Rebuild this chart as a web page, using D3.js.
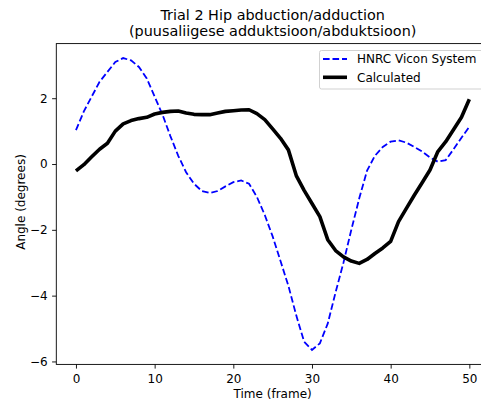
<!DOCTYPE html>
<html>
<head>
<meta charset="utf-8">
<script src="https://cdn.jsdelivr.net/npm/d3@7"></script>
<style>
  html, body { margin: 0; padding: 0; background: #fff; }
  svg { display: block; }
  text { font-family: "DejaVu Sans", sans-serif; fill: #000; }
</style>
</head>
<body>
<svg id="chart" width="481" height="405"></svg>
<script>
const frames = d3.range(0, 51);
const viconValues = [
  1.03, 1.6, 2.05, 2.5, 2.8, 3.1, 3.22, 3.15, 2.95, 2.6,
  2.05, 1.5, 0.85, 0.25, -0.25, -0.6, -0.82, -0.88, -0.82, -0.68,
  -0.55, -0.5, -0.6, -1.0, -1.55, -2.2, -2.95, -3.7, -4.6, -5.4,
  -5.65, -5.45, -4.85, -3.9, -3.0, -2.0, -1.05, -0.2, 0.25, 0.52,
  0.68, 0.72, 0.65, 0.52, 0.38, 0.2, 0.07, 0.12, 0.45, 0.8,
  1.13
];
const calculatedValues = [
  -0.21, -0.02, 0.22, 0.45, 0.63, 1.0, 1.22, 1.32, 1.38, 1.42,
  1.52, 1.57, 1.6, 1.61, 1.55, 1.51, 1.5, 1.5, 1.55, 1.6,
  1.62, 1.64, 1.65, 1.53, 1.35, 1.07, 0.78, 0.43, -0.35, -0.8,
  -1.2, -1.6, -2.3, -2.63, -2.82, -2.95, -3.02, -2.9, -2.72, -2.55,
  -2.35, -1.75, -1.35, -0.95, -0.57, -0.18, 0.38, 0.68, 1.05, 1.42,
  1.97
];
const xTicks = [0, 10, 20, 30, 40, 50];
const yTicks = [-6, -4, -2, 0, 2];
const seriesNames = ["HNRC Vicon System", "Calculated"];
const titleLines = ["Trial 2 Hip abduction/adduction", "(puusaliigese adduktsioon/abduktsioon)"];
const xLabel = "Time (frame)";
const yLabel = "Angle (degrees)";

(function () {
const svg = d3.select("#chart");
const pL = 56.3, pR = 489, pT = 43.6, pB = 364.4;

const x = d3.scaleLinear().domain([-2.5, 52.5]).range([pL, pR]);
const y = d3.scaleLinear().domain([-6.09, 3.66]).range([pB, pT]);

const fmt = d => (d < 0 ? "\u2212" + Math.abs(d) : String(d));

const xAxis = svg.append("g").attr("transform", `translate(0,${pB})`)
  .call(d3.axisBottom(x).tickValues(xTicks).tickSize(4.2).tickPadding(6.2).tickFormat(fmt));
const yAxis = svg.append("g").attr("transform", `translate(${pL},0)`)
  .call(d3.axisLeft(y).tickValues(yTicks).tickSize(4.2).tickPadding(4.4).tickFormat(fmt));
[xAxis, yAxis].forEach(g => {
  g.select(".domain").remove();
  g.selectAll(".tick line").attr("stroke", "#000").attr("stroke-width", 0.9);
  g.selectAll(".tick text").attr("font-size", 12).attr("font-family", "DejaVu Sans");
});

svg.append("rect").attr("x", pL).attr("y", pT)
  .attr("width", pR - pL).attr("height", pB - pT)
  .attr("fill", "none").attr("stroke", "#000").attr("stroke-width", 0.9);

svg.append("clipPath").attr("id", "clip").append("rect")
  .attr("x", pL).attr("y", pT).attr("width", pR - pL).attr("height", pB - pT);

const line = vals => d3.line().x((d, i) => x(frames[i])).y(d => y(d))(vals);

const plot = svg.append("g").attr("clip-path", "url(#clip)");
plot.append("path").attr("d", line(viconValues))
  .attr("fill", "none").attr("stroke", "#0000ff").attr("stroke-width", 1.8)
  .attr("stroke-dasharray", "6.6,2.9");
plot.append("path").attr("d", line(calculatedValues))
  .attr("fill", "none").attr("stroke", "#000").attr("stroke-width", 3.6)
  .attr("stroke-linejoin", "round");

const cx = (pL + pR) / 2;
svg.append("text").attr("x", cx).attr("y", 19.5).attr("text-anchor", "middle")
  .attr("font-size", 14.4).text(titleLines[0]);
svg.append("text").attr("x", cx).attr("y", 36).attr("text-anchor", "middle")
  .attr("font-size", 14.4).text(titleLines[1]);

svg.append("text").attr("x", cx).attr("y", 398).attr("text-anchor", "middle")
  .attr("font-size", 12).text(xLabel);
svg.append("text").attr("transform", `translate(25,${(pT + pB) / 2 - 2}) rotate(-90)`)
  .attr("text-anchor", "middle").attr("font-size", 12).text(yLabel);

const lg = svg.append("g");
lg.append("rect").attr("x", 319.5).attr("y", 50.5).attr("width", 165).attr("height", 38.5)
  .attr("rx", 2).attr("fill", "#fff").attr("fill-opacity", 0.8)
  .attr("stroke", "#ccc").attr("stroke-width", 0.9);
lg.append("line").attr("x1", 323).attr("x2", 347).attr("y1", 59).attr("y2", 59)
  .attr("stroke", "#0000ff").attr("stroke-width", 1.8).attr("stroke-dasharray", "6.6,2.9");
lg.append("line").attr("x1", 323).attr("x2", 347).attr("y1", 77.3).attr("y2", 77.3)
  .attr("stroke", "#000").attr("stroke-width", 3.6);
lg.append("text").attr("x", 357).attr("y", 63.3).attr("font-size", 12).text(seriesNames[0]);
lg.append("text").attr("x", 357).attr("y", 81.6).attr("font-size", 12).text(seriesNames[1]);
})();
</script>
</body>
</html>
